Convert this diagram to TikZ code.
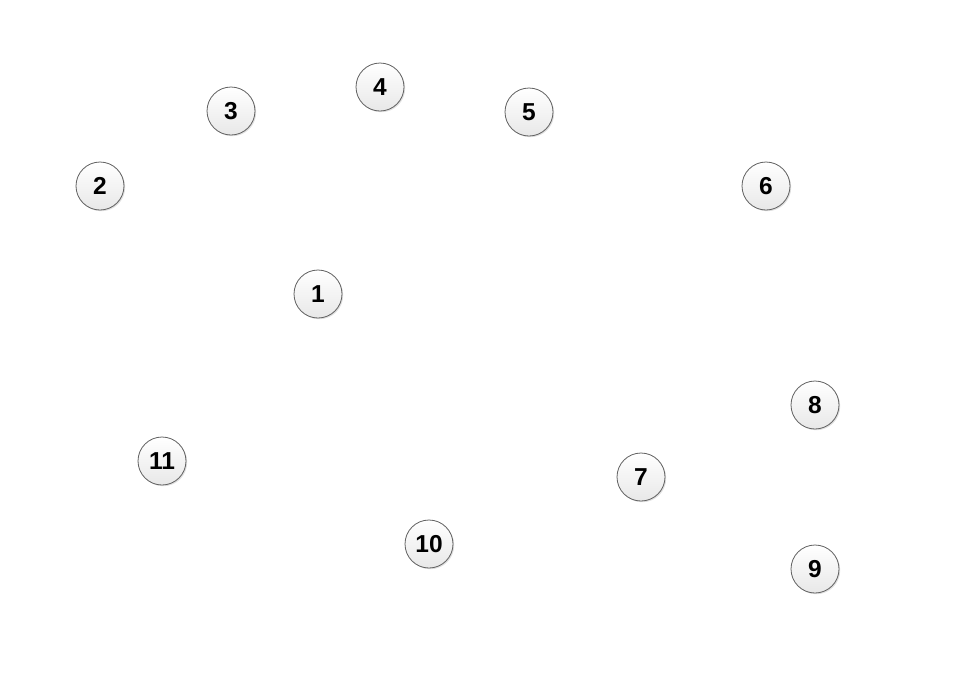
\documentclass[tikz,border=0pt]{standalone}
\usepackage{fontspec}
\setmainfont{Liberation Sans}
\usetikzlibrary{shadows}
\begin{document}
\begin{tikzpicture}[x=1pt,y=-1pt,
  vertex/.style={circle,draw=gray!75!black,line width=0.8pt,minimum size=48pt,inner sep=0pt,
    top color=white,bottom color=gray!18,
    drop shadow={shadow xshift=1.2pt,shadow yshift=-1.2pt,opacity=0.25},
    font=\fontsize{24.5pt}{24.5pt}\selectfont\bfseries}]
\useasboundingbox[fill=white] (0,0) rectangle (953,673);
\node[vertex] (n1) at (318,294) {1};
\node[vertex] (n2) at (100,186) {2};
\node[vertex] (n3) at (231,111) {3};
\node[vertex] (n4) at (380,87) {4};
\node[vertex] (n5) at (529,112) {5};
\node[vertex] (n6) at (766,186) {6};
\node[vertex] (n7) at (641,477) {7};
\node[vertex] (n8) at (815,405) {8};
\node[vertex] (n9) at (815,569) {9};
\node[vertex] (n10) at (429,544) {10};
\node[vertex] (n11) at (162,461) {11};
\end{tikzpicture}
\end{document}
